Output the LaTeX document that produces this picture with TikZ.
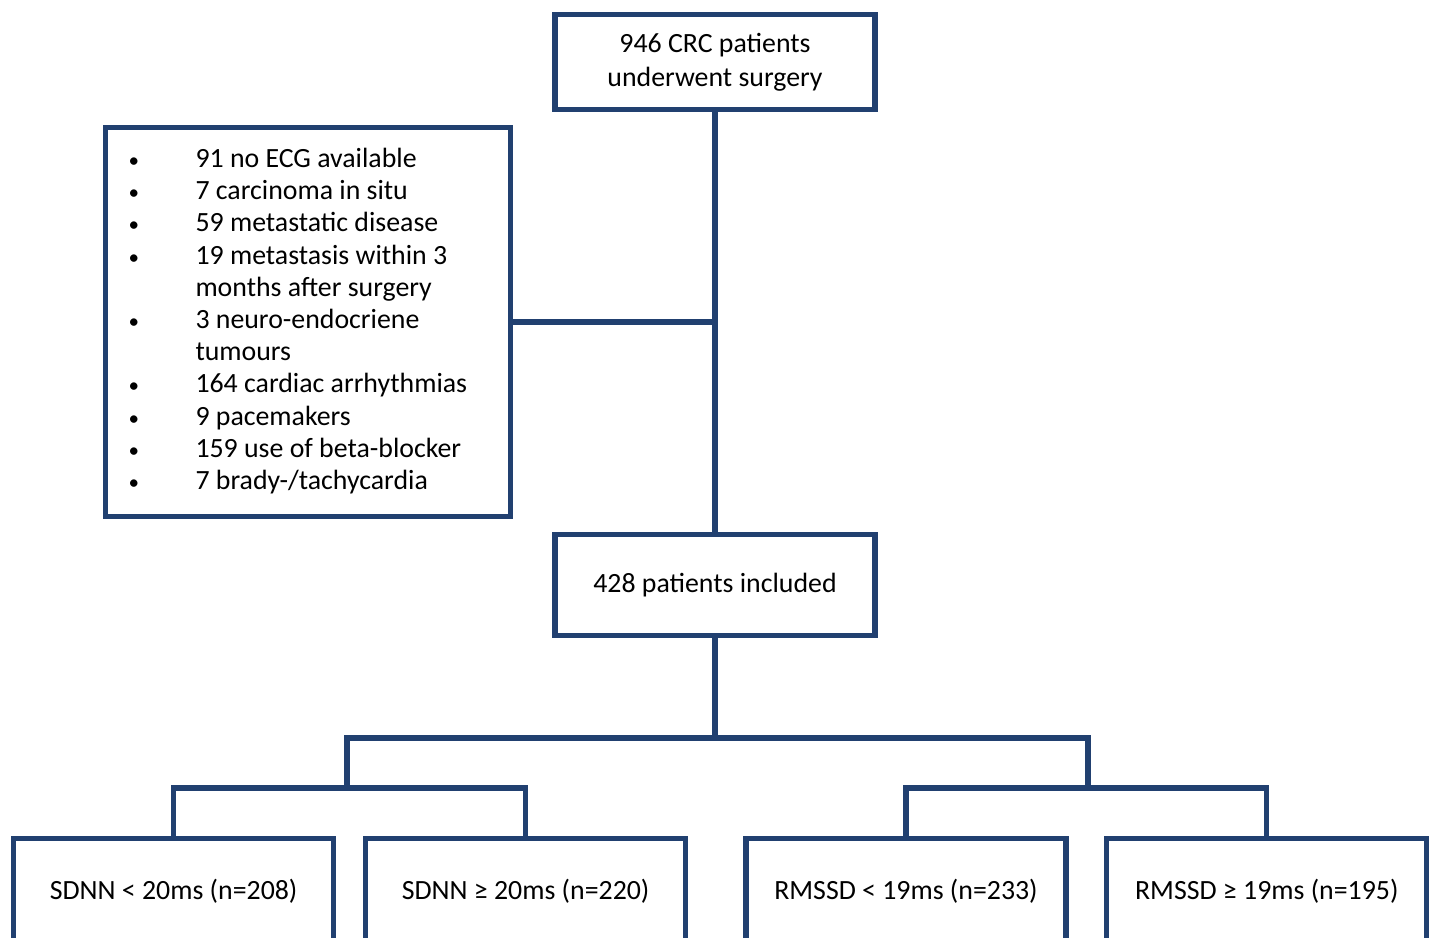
\documentclass[tikz,border=0pt]{standalone}
\usepackage{fontspec}
\setmainfont{Carlito}
\usepackage{array}
\usetikzlibrary{positioning}
\definecolor{frame}{RGB}{33,64,112}
\newcommand{\exclbullet}{{\fontsize{15pt}{15pt}\selectfont\textbullet}}

\tikzset{
    box/.style={draw=frame, line width=3.6pt, fill=white, minimum width=8cm,
        align=center, font=\fontsize{19.8pt}{24pt}\selectfont},
    link/.style={draw=frame, line width=3.6pt}
}

\begin{document}
\begin{tikzpicture}
    % Canvas
    \clip (0,0) rectangle (35.8,-23.45);
    \fill[white] (0,0) rectangle (35.8,-23.45);

    % Main flow
    \node[box, minimum height=2.38cm] (start) at (17.875,-1.55)
        {946 CRC patients\\underwent surgery};
    \node[box, minimum height=2.53cm] (incl) at (17.875,-14.63)
        {428 patients included};

    % Exclusions
    \node[box, minimum width=10.13cm, minimum height=9.73cm, inner sep=0pt,
          font=\fontsize{19.8pt}{22.9pt}\selectfont] (excl) at (7.7,-8.05)
        {\begin{tabular}{@{}p{1.675cm}@{}p{7.3cm}@{}}
        \exclbullet & 91 no ECG available\\
        \exclbullet & 7 carcinoma in situ\\
        \exclbullet & 59 metastatic disease\\
        \exclbullet & 19 metastasis within 3\\
                    & months after surgery\\
        \exclbullet & 3 neuro-endocriene\\
                    & tumours\\
        \exclbullet & 164 cardiac arrhythmias\\
        \exclbullet & 9 pacemakers\\
        \exclbullet & 159 use of beta-blocker\\
        \exclbullet & 7 brady-/tachycardia
        \end{tabular}};

    % Subgroups
    \node[box, minimum height=2.65cm] (sdnnlo) at (4.34,-22.28) {SDNN < 20ms (n=208)};
    \node[box, minimum height=2.65cm] (sdnnhi) at (13.14,-22.28) {SDNN ≥ 20ms (n=220)};
    \node[box, minimum height=2.65cm] (rmssdlo) at (22.65,-22.28) {RMSSD < 19ms (n=233)};
    \node[box, minimum height=2.65cm] (rmssdhi) at (31.67,-22.28) {RMSSD ≥ 19ms (n=195)};

    % Junction points
    \coordinate (split) at (17.875,-18.45);
    \coordinate (sdnnup) at (8.675,-18.45);
    \coordinate (rmssdup) at (27.2,-18.45);
    \coordinate (sdnnbar) at (8.675,-19.7);
    \coordinate (rmssdbar) at (27.2,-19.7);

    % Connectors
    \draw[link] (start.south) -- (incl.north);
    \draw[link] (excl.east) -- (excl.east -| start.south);
    \draw[link] (incl.south) -- (split);
    \draw[link] (sdnnbar) |- (sdnnup) -- (rmssdup) -- (rmssdbar);
    \draw[link] (sdnnlo.north) |- (sdnnbar) -| (sdnnhi.north);
    \draw[link] (rmssdlo.north) |- (rmssdbar) -| (rmssdhi.north);
\end{tikzpicture}
\end{document}
